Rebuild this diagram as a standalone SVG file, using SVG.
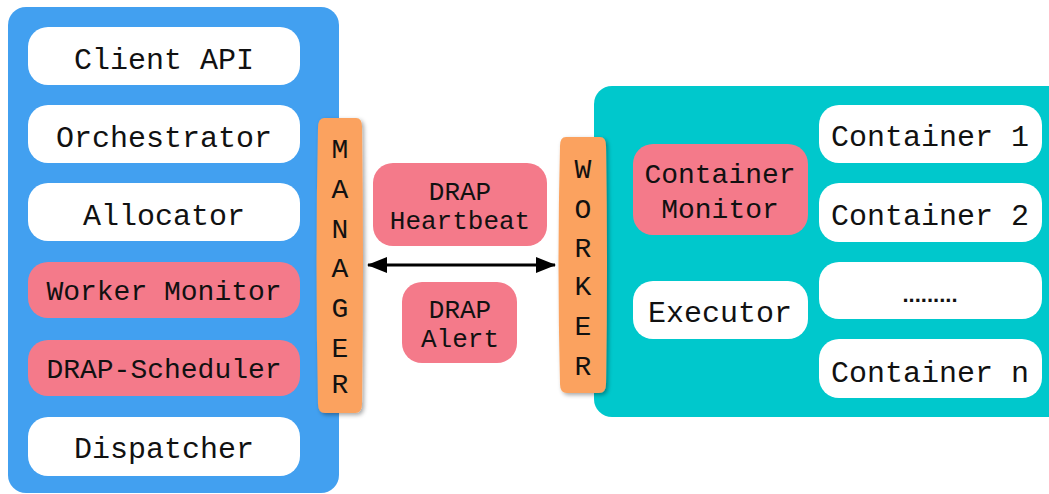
<svg xmlns="http://www.w3.org/2000/svg" width="1049" height="494" viewBox="0 0 1049 494">
<defs>
<style>
.t{font-family:"Liberation Mono","Courier New",monospace;fill:#111;text-anchor:middle}
.big{font-size:30px}
.pk{font-size:28px}
.mid{font-size:26px}
.bar{font-size:28px}
.white{fill:#fff}
.pink{fill:#F47A8A}
.orange{fill:#FBA25E}
</style>
<filter id="sh" x="-30%" y="-10%" width="160%" height="120%">
<feDropShadow dx="2" dy="2" stdDeviation="2" flood-color="#000" flood-opacity="0.35"/>
</filter>
<marker id="ah" viewBox="0 0 20 16" refX="19" refY="8" markerWidth="20" markerHeight="16" markerUnits="userSpaceOnUse" orient="auto-start-reverse">
<path d="M0,0 L20,8 L0,16 Z" fill="#000"/>
</marker>
</defs>

<g id="manager-panel">
<rect x="8" y="7" width="331" height="486" rx="18" fill="#42A0F0"/>
</g>
<g id="worker-panel">
<rect x="594" y="86" width="480" height="331" rx="18" fill="#00C8CC"/>
</g>

<g id="client-api"><rect class="white" x="28" y="27" width="272" height="58" rx="20"/><text class="t big" x="164" y="69">Client API</text></g>
<g id="orchestrator"><rect class="white" x="28" y="105" width="272" height="58" rx="20"/><text class="t big" x="164" y="147">Orchestrator</text></g>
<g id="allocator"><rect class="white" x="28" y="183" width="272" height="58" rx="20"/><text class="t big" x="164" y="225">Allocator</text></g>
<g id="worker-monitor"><rect class="pink" x="28" y="262" width="272" height="56" rx="20"/><text class="t pk" x="164" y="300">Worker Monitor</text></g>
<g id="drap-scheduler"><rect class="pink" x="28" y="340" width="272" height="56" rx="20"/><text class="t pk" x="164" y="378">DRAP-Scheduler</text></g>
<g id="dispatcher"><rect class="white" x="28" y="417" width="272" height="59" rx="20"/><text class="t big" x="164" y="458">Dispatcher</text></g>

<g id="manager-bar">
<path class="orange" filter="url(#sh)" d="M324 118 L356 118 Q362 118 362 127 Q364 265 362 404 Q362 413 355 413 L325 413 Q318 413 318 404 Q315 265 318 128 Q318 118 324 118 Z"/>
<text class="t bar" x="340" y="158">M</text>
<text class="t bar" x="340" y="198">A</text>
<text class="t bar" x="340" y="238">N</text>
<text class="t bar" x="340" y="277">A</text>
<text class="t bar" x="340" y="317">G</text>
<text class="t bar" x="340" y="357">E</text>
<text class="t bar" x="340" y="393">R</text>
</g>

<g id="worker-bar">
<path class="orange" filter="url(#sh)" d="M566 137 L600 137 Q606 137 606 146 Q608 265 606 384 Q606 393 599 393 L567 393 Q560 393 560 384 Q557 265 560 146 Q560 137 566 137 Z"/>
<text class="t bar" x="583" y="178">W</text>
<text class="t bar" x="583" y="218">O</text>
<text class="t bar" x="583" y="257">R</text>
<text class="t bar" x="583" y="295">K</text>
<text class="t bar" x="583" y="335">E</text>
<text class="t bar" x="583" y="375">R</text>
</g>

<g id="drap-heartbeat"><rect class="pink" x="373" y="163" width="174" height="83" rx="20"/><text class="t mid" x="460" y="200">DRAP</text><text class="t mid" x="460" y="229">Heartbeat</text></g>
<g id="drap-alert"><rect class="pink" x="402" y="282" width="115" height="81" rx="20"/><text class="t mid" x="460" y="318">DRAP</text><text class="t mid" x="460" y="347">Alert</text></g>

<g id="connectors">
<line x1="368" y1="265" x2="555" y2="265" stroke="#000" stroke-width="3" marker-start="url(#ah)" marker-end="url(#ah)"/>
</g>

<g id="container-monitor"><rect class="pink" x="633" y="144" width="175" height="91" rx="20"/><text class="t pk" x="720" y="183">Container</text><text class="t pk" x="720" y="218">Monitor</text></g>
<g id="executor"><rect class="white" x="633" y="281" width="175" height="58" rx="20"/><text class="t big" x="720" y="322">Executor</text></g>

<g id="container-1"><rect class="white" x="819" y="105" width="223" height="58" rx="20"/><text class="t big" x="930" y="146">Container 1</text></g>
<g id="container-2"><rect class="white" x="819" y="183" width="223" height="59" rx="20"/><text class="t big" x="930" y="225">Container 2</text></g>
<g id="container-dots"><rect class="white" x="819" y="262" width="223" height="57" rx="20"/><text x="930" y="302" font-family="Liberation Sans, Arial, sans-serif" font-size="22" font-weight="bold" text-anchor="middle" fill="#111">.........</text></g>
<g id="container-n"><rect class="white" x="819" y="339" width="223" height="59" rx="20"/><text class="t big" x="930" y="382">Container n</text></g>
</svg>
